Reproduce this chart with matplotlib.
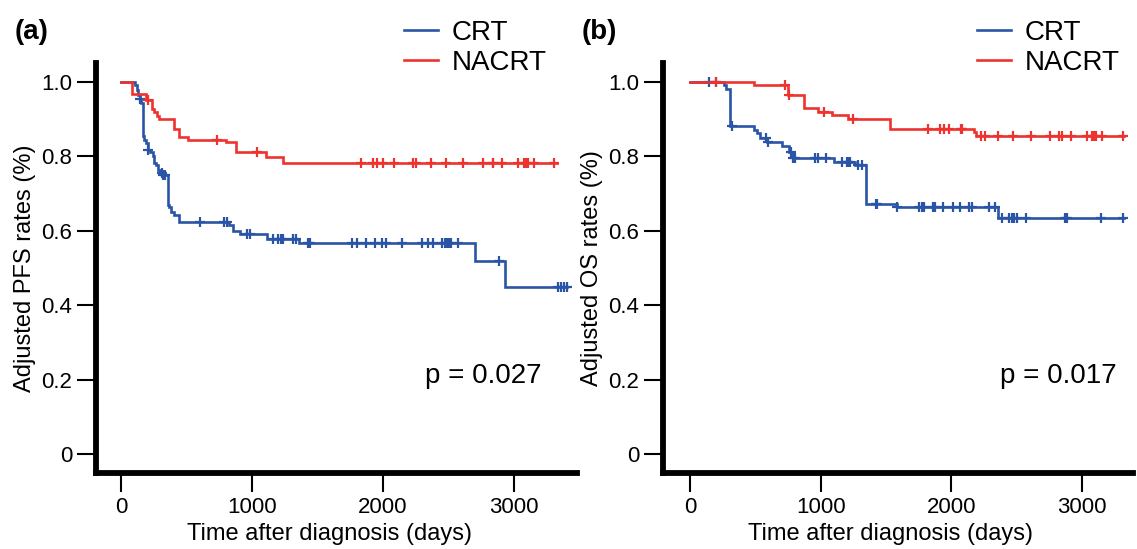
import matplotlib
matplotlib.use('Agg')
import matplotlib.pyplot as plt
from matplotlib.lines import Line2D
import numpy as np

plt.rcParams['font.family'] = ['Liberation Sans', 'DejaVu Sans']

W, H = 1137, 549
BLUE = '#2A55A6'
RED = '#EE322E'

groups = ['CRT', 'NACRT']

# ---------------- Panel (a): PFS ----------------
pfs_crt_t = [107, 120, 132, 145, 155, 166, 173, 189, 204, 221, 242, 254, 265, 280, 298, 313,
             361, 369, 382, 405, 443, 827, 853, 908, 1112, 1359, 2702, 2931]
pfs_crt_s = [0.992, 0.978, 0.965, 0.953, 0.943, 0.853, 0.844, 0.835, 0.817, 0.81, 0.801, 0.781,
             0.777, 0.763, 0.756, 0.75, 0.669, 0.664, 0.651, 0.641, 0.624, 0.615, 0.599, 0.59,
             0.579, 0.567, 0.518, 0.449]
pfs_crt_end = 3402
pfs_crt_cens = [145, 204, 311, 323, 338, 603, 789, 807, 960, 985, 1163, 1201, 1219, 1239, 1315,
                1336, 1430, 1443, 1766, 1799, 1868, 1939, 1990, 2023, 2143, 2295, 2341, 2384,
                2448, 2473, 2486, 2504, 2517, 2575, 2885, 3334, 3359, 3382, 3402]

pfs_nacrt_t = [86, 191, 234, 254, 273, 290, 405, 443, 514, 802, 878, 1105, 1237]
pfs_nacrt_s = [0.967, 0.95, 0.927, 0.918, 0.909, 0.90, 0.873, 0.851, 0.843, 0.837, 0.81, 0.797, 0.781]
pfs_nacrt_end = 3326
pfs_nacrt_cens = [204, 735, 1036, 1832, 1921, 1952, 1998, 2084, 2227, 2252, 2364, 2479, 2613,
                  2761, 2837, 2842, 2911, 3033, 3076, 3092, 3109, 3155, 3308]

# ---------------- Panel (b): OS ----------------
os_crt_t = [263, 273, 306, 490, 515, 536, 590, 707, 758, 789, 1105, 1263, 1345, 1583, 2361]
os_crt_s = [0.99, 0.98, 0.88, 0.871, 0.862, 0.848, 0.839, 0.826, 0.812, 0.795, 0.785, 0.777,
            0.673, 0.664, 0.635]
os_crt_end = 3323
os_crt_cens = [148, 199, 319, 582, 595, 773, 789, 804, 957, 978, 1039, 1162, 1200, 1212, 1225,
               1289, 1315, 1424, 1434, 1583, 1756, 1774, 1794, 1858, 1876, 1940, 2016, 2067,
               2136, 2157, 2292, 2335, 2387, 2445, 2463, 2481, 2501, 2573, 2871, 2889, 3147, 3313]

os_nacrt_t = [490, 753, 873, 982, 1085, 1208, 1531, 2175, 2190]
os_nacrt_s = [0.991, 0.963, 0.93, 0.918, 0.91, 0.90, 0.874, 0.866, 0.855]
os_nacrt_end = 3323
os_nacrt_cens = [199, 730, 760, 1028, 1246, 1825, 1914, 1945, 1985, 2075, 2085, 2228, 2259, 2361,
                 2476, 2609, 2757, 2828, 2846, 2915, 3038, 3076, 3093, 3109, 3157, 3313]

ytick_vals = [0, 0.2, 0.4, 0.6, 0.8, 1.0]
ytick_labels = ['0', '0.2', '0.4', '0.6', '0.8', '1.0']
xtick_vals = [0, 1000, 2000, 3000]
xtick_labels = ['0', '1000', '2000', '3000']


def surv_at(t_ev, s_ev, t):
    val = 1.0
    for te, se in zip(t_ev, s_ev):
        if te <= t:
            val = se
        else:
            break
    return val


def km(ax, t_ev, s_ev, t_end, cens, color):
    xs = [0] + list(t_ev) + [t_end]
    ys = [1.0] + list(s_ev) + [s_ev[-1]]
    ax.plot(xs, ys, drawstyle='steps-post', color=color, lw=1.9, solid_joinstyle='miter')
    cy = [surv_at(t_ev, s_ev, c) for c in cens]
    ax.plot(cens, cy, ls='none', marker='+', ms=7, mew=1.6, color=color)


fig = plt.figure(figsize=(W / 100, H / 100), dpi=100)

bot = 1 - 473 / H
hgt = (473 - 63) / H
axa = fig.add_axes([96 / W, bot, (577 - 96) / W, hgt])
axb = fig.add_axes([663 / W, bot, (1133 - 663) / W, hgt])

km(axa, pfs_crt_t, pfs_crt_s, pfs_crt_end, pfs_crt_cens, BLUE)
km(axa, pfs_nacrt_t, pfs_nacrt_s, pfs_nacrt_end, pfs_nacrt_cens, RED)
km(axb, os_crt_t, os_crt_s, os_crt_end, os_crt_cens, BLUE)
km(axb, os_nacrt_t, os_nacrt_s, os_nacrt_end, os_nacrt_cens, RED)

axa.set_xlim(-191, 3481)
axb.set_xlim(-207, 3392)

for ax, ylab in [(axa, 'Adjusted PFS rates (%)'), (axb, 'Adjusted OS rates (%)')]:
    ax.set_ylim(-0.05, 1.05)
    ax.set_yticks(ytick_vals)
    ax.set_yticklabels(ytick_labels)
    ax.set_xticks(xtick_vals)
    ax.set_xticklabels(xtick_labels)
    for s in ['top', 'right']:
        ax.spines[s].set_visible(False)
    for s in ['left', 'bottom']:
        ax.spines[s].set_linewidth(4.2)
    ax.tick_params(direction='out', length=14, width=1.5, labelsize=16, pad=3)
    ax.set_xlabel('Time after diagnosis (days)', fontsize=17, labelpad=4)
    ax.set_ylabel(ylab, fontsize=17, labelpad=4)
    ax.xaxis.label.set_x(0.485)

axa.text(3211, 0.191, 'p = 0.027', fontsize=20, ha='right', va='baseline')
axb.text(3270, 0.191, 'p = 0.017', fontsize=20, ha='right', va='baseline')

handles = [Line2D([], [], color=BLUE, lw=1.9), Line2D([], [], color=RED, lw=1.9)]
for ax, xl in [(axa, 404), (axb, 977)]:
    ax.legend(handles, groups, loc='upper left', bbox_to_anchor=(xl / W, 1 - 20 / H),
              bbox_transform=fig.transFigure, frameon=False, fontsize=20,
              handlelength=1.22, handletextpad=0.5, labelspacing=0.15,
              borderpad=0, borderaxespad=0)

fig.text(15 / W, 1 - 32 / H, '(a)', fontsize=20, fontweight='bold', ha='left', va='center')
fig.text(582 / W, 1 - 32 / H, '(b)', fontsize=20, fontweight='bold', ha='left', va='center')

fig.savefig('out.png', dpi=100)
